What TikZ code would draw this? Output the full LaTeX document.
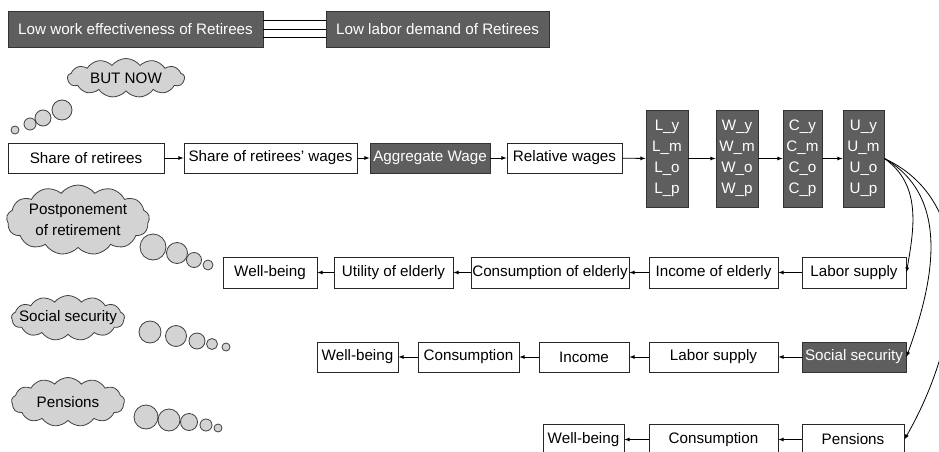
\documentclass[tikz,border=0pt]{standalone}
\usepackage{fontspec}
\setmainfont{Liberation Sans}
\usepackage{tikz}
\usetikzlibrary{shapes.symbols, arrows}
\definecolor{boxgray}{HTML}{5E5E5E}
\definecolor{cloudgray}{HTML}{D3D3D3}

\begin{document}
\begin{tikzpicture}[x=1pt, y=1pt]
    \tikzstyle{box} = [rectangle, minimum height=30pt, inner sep=0pt, text centered, draw=black!85, line width=0.8pt, fill=white]
    \tikzstyle{darkbox} = [box, fill=boxgray, draw=black!80, text=white]
    \tikzstyle{colbox} = [darkbox, minimum height=97pt, align=center]
    \tikzstyle{thought} = [cloud, cloud puffs=13, cloud puff arc=105, cloud ignores aspect, draw=black!75, fill=cloudgray, line width=0.8pt, inner sep=0pt]
    \tikzstyle{bubble} = [draw=black!75, fill=cloudgray, line width=0.8pt]
    \tikzstyle{arr} = [->, >=latex, line width=0.8pt]
    \fontsize{15.2}{21}\selectfont
    \path[use as bounding box, fill=white] (0,0) rectangle (939,-452);

    \node (eff) [darkbox, minimum width=255pt, minimum height=36pt] at (135.5,-29) {Low work effectiveness of Retirees};
    \node (dem) [darkbox, minimum width=223pt, minimum height=36pt] at (437.5,-29) {Low labor demand of Retirees};
    \foreach \s in {-8.5,0,8.5}
        \draw[line width=0.8pt] ([yshift=\s pt]eff.east) -- ([yshift=\s pt]dem.west);

    \node (butnow) [thought, minimum width=117pt, minimum height=39pt, label=center:BUT NOW] at (126,-78) {};
    \node (postpone) [thought, minimum width=143pt, minimum height=70pt, label={[align=center]center:{Postponement\\of retirement}}] at (78,-220) {};
    \node (socthought) [thought, minimum width=113pt, minimum height=45pt, label=center:Social security] at (68,-318) {};
    \node (penthought) [thought, minimum width=113pt, minimum height=49pt, label=center:Pensions] at (68,-402) {};

    \foreach \x/\y/\r in {62/110/10, 43/118/8, 30/124/6, 15/130/4}
        \draw[bubble] (\x,-\y) circle (\r);
    \foreach \x/\y/\r in {153/247/13, 177/253/10.5, 194/260/7.5, 208/265/5}
        \draw[bubble] (\x,-\y) circle (\r);
    \foreach \x/\y/\r in {150/332/11, 176/336/10.5, 197/341/8, 212/344/5.5, 226/347/4}
        \draw[bubble] (\x,-\y) circle (\r);
    \foreach \x/\y/\r in {146/417/12, 169/420/11, 189/422/8.5, 206/425/6, 218/428/4}
        \draw[bubble] (\x,-\y) circle (\r);

    \node (share) [box, minimum width=156pt] at (86,-158) {Share of retirees};
    \node (sharew) [box, minimum width=173pt] at (270.5,-158) {Share of retirees' wages};
    \node (agg) [darkbox, minimum width=120pt] at (430,-158) {Aggregate Wage};
    \node (rel) [box, minimum width=115pt] at (564.5,-158) {Relative wages};
    \node (colL) [colbox, minimum width=42pt] at (667,-158.5) {L\_y\\L\_m\\L\_o\\L\_p};
    \node (colW) [colbox, minimum width=42pt] at (737,-158.5) {W\_y\\W\_m\\W\_o\\W\_p};
    \node (colC) [colbox, minimum width=39pt] at (802.5,-158.5) {C\_y\\C\_m\\C\_o\\C\_p};
    \node (colU) [colbox, minimum width=41pt] at (863.5,-158.5) {U\_y\\U\_m\\U\_o\\U\_p};
    \draw[arr] (share) -- (sharew);
    \draw[arr] (sharew) -- (agg);
    \draw[arr] (agg) -- (rel);
    \draw[arr] (rel) -- (colL);
    \draw[arr] (colL) -- (colW);
    \draw[arr] (colW) -- (colC);
    \draw[arr] (colC) -- (colU);

    \node (wellA) [box, minimum width=94pt, minimum height=31pt] at (270,-272.5) {Well-being};
    \node (utilA) [box, minimum width=119pt, minimum height=31pt] at (393.5,-272.5) {Utility of elderly};
    \node (consA) [box, minimum width=158pt, minimum height=31pt] at (550,-272.5) {Consumption of elderly};
    \node (incA) [box, minimum width=129pt, minimum height=31pt] at (713.5,-272.5) {Income of elderly};
    \node (labA) [box, minimum width=104pt, minimum height=31pt] at (854,-272.5) {Labor supply};
    \draw[arr] (labA) -- (incA);
    \draw[arr] (incA) -- (consA);
    \draw[arr] (consA) -- (utilA);
    \draw[arr] (utilA) -- (wellA);

    \node (wellB) [box, minimum width=81pt] at (357.5,-357) {Well-being};
    \node (consB) [box, minimum width=101pt] at (468.5,-357) {Consumption};
    \node (incB) [box, minimum width=90pt] at (584,-357) {Income};
    \node (labB) [box, minimum width=129pt] at (713.5,-357) {Labor supply};
    \node (socB) [darkbox, minimum width=104pt] at (854,-357) {Social security};
    \draw[arr] (socB) -- (labB);
    \draw[arr] (labB) -- (incB);
    \draw[arr] (incB) -- (consB);
    \draw[arr] (consB) -- (wellB);

    \node (wellC) [box, minimum width=81pt, minimum height=31pt] at (583.5,-439.5) {Well-being};
    \node (consC) [box, minimum width=129pt, minimum height=31pt] at (713.5,-439.5) {Consumption};
    \node (penC) [box, minimum width=102pt, minimum height=31pt] at (853,-439.5) {Pensions};
    \draw[arr] (penC) -- (consC);
    \draw[arr] (consC) -- (wellC);

    \draw[arr] (colU.east) to[out=-35, in=80] (labA.east);
    \draw[arr] (colU.east) to[out=-30, in=70] (socB.east);
    \draw[arr] (colU.east) to[out=-25, in=60] (penC.east);
\end{tikzpicture}
\end{document}
